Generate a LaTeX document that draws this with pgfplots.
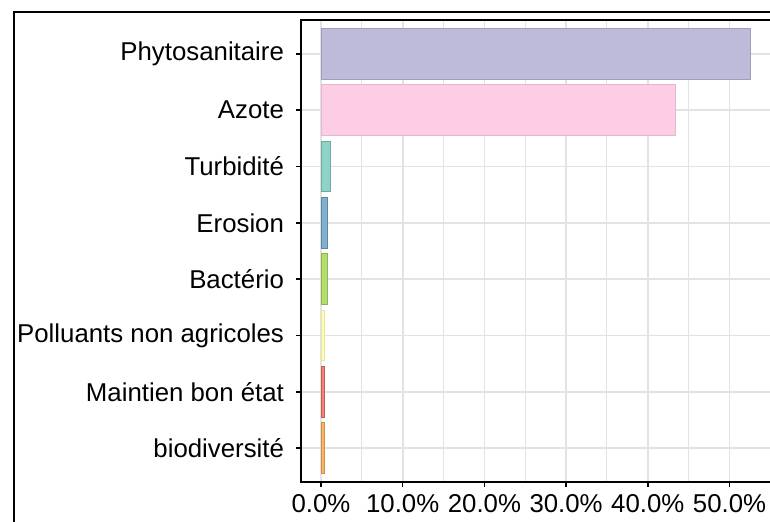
\documentclass[border=0pt]{standalone}
\usepackage{pgfplots}
\pgfplotsset{compat=1.18}
\usepackage{fontspec}
\setmainfont{Liberation Sans}
\definecolor{cphyto}{HTML}{BEBADA}
\definecolor{cazote}{HTML}{FCCDE5}
\definecolor{cturb}{HTML}{8DD3C7}
\definecolor{cero}{HTML}{80B1D3}
\definecolor{cbact}{HTML}{B3DE69}
\definecolor{cpoll}{HTML}{FFFFB3}
\definecolor{cmain}{HTML}{FB8072}
\definecolor{cbio}{HTML}{FDB462}
\definecolor{gridc}{HTML}{E3E3E3}
\begin{document}
\begin{tikzpicture}[font=\fontsize{12.9}{15}\selectfont]
\path[use as bounding box, clip] (0,0) rectangle (385pt,-261pt);
\draw[line width=0.6pt, black] (7pt,-6pt) rectangle (400pt,-290pt);
\begin{axis}[
  at={(150.5pt,-241pt)}, anchor=south west,
  scale only axis, width=235pt, height=231pt,
  xmin=-2.45, xmax=55.08, ymin=0.4, ymax=8.6,
  xbar, bar width=0.9, bar shift=0pt,
  xtick={0,10,20,30,40,50},
  xticklabels={0.0\%,10.0\%,20.0\%,30.0\%,40.0\%,50.0\%},
  minor xtick={5,15,25,35,45},
  ytick={1,2,3,4,5,6,7,8},
  yticklabels={biodiversité,Maintien bon état,Polluants non agricoles,Bactério,Erosion,Turbidité,Azote,Phytosanitaire},
  xmajorgrids, xminorgrids, ymajorgrids,
  major grid style={color=gridc, line width=0.9pt},
  minor grid style={color=gridc, line width=0.5pt},
  axis line style={black, line width=0.75pt},
  major tick style={black, line width=0.75pt},
  minor tick length=0pt,
  major tick length=2.5pt,
  tick align=outside,
  xtick pos=left, ytick pos=left,
  ticklabel style={font=\fontsize{12.9}{15}\selectfont, text=black},
  yticklabel style={xshift=-2.5pt},
  /pgf/number format/assume math mode=true,
]
\addplot[fill=cphyto, draw=cphyto!85!black, line width=0.4pt] coordinates {(52.5,8)};
\addplot[fill=cazote, draw=cazote!90!black, line width=0.4pt] coordinates {(43.4,7)};
\addplot[fill=cturb, draw=cturb!80!black, line width=0.4pt] coordinates {(1.2,6)};
\addplot[fill=cero, draw=cero!75!black, line width=0.4pt] coordinates {(0.8,5)};
\addplot[fill=cbact, draw=cbact!80!black, line width=0.4pt] coordinates {(0.8,4)};
\addplot[fill=cpoll, draw=cpoll!90!black, line width=0.4pt] coordinates {(0.4,3)};
\addplot[fill=cmain, draw=cmain!75!black, line width=0.4pt] coordinates {(0.4,2)};
\addplot[fill=cbio, draw=cbio!80!black, line width=0.4pt] coordinates {(0.4,1)};
\end{axis}
\end{tikzpicture}
\end{document}
